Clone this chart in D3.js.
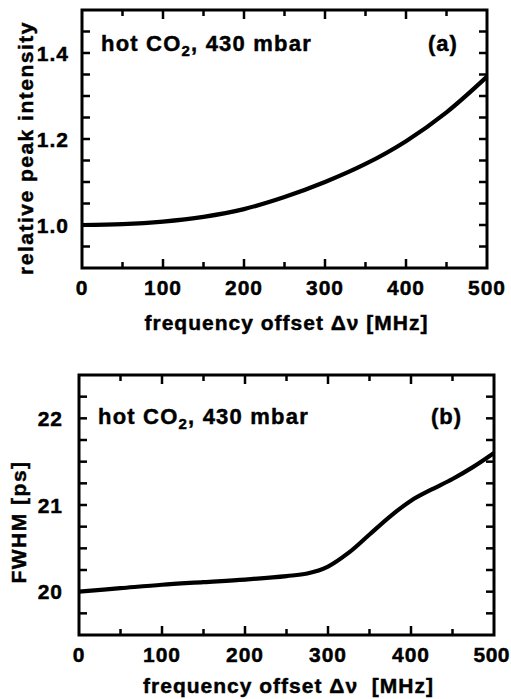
<!DOCTYPE html>
<html><head><meta charset="utf-8">
<script src="https://cdn.jsdelivr.net/npm/d3@7"></script>
<style>body{margin:0;background:#fff}svg{display:block}text{font-family:"Liberation Sans",Arial,sans-serif;font-weight:bold;fill:#000;stroke:#000;stroke-width:0.45px}</style>
</head><body>
<script>
// ---- data ----
const freqA = [0, 50, 100, 150, 200, 250, 300, 350, 400, 450, 500];
const intensity = [1.0, 1.002, 1.008, 1.019, 1.037, 1.065, 1.1, 1.142, 1.195, 1.262, 1.345];
const freqB = [0, 50, 100, 150, 200, 250, 275, 300, 325, 350, 375, 400, 425, 450, 475, 500];
const fwhm = [20.0, 20.04, 20.08, 20.11, 20.14, 20.18, 20.21, 20.29, 20.45, 20.66, 20.87, 21.05, 21.18, 21.30, 21.44, 21.6];
const xTicks = [0, 100, 200, 300, 400, 500];
const yTicksA = [1.0, 1.2, 1.4];
const yTicksB = [20, 21, 22];

const W = 511, H = 699;
const svg = d3.select("body").append("svg").attr("width", W).attr("height", H);

function panel(o) {
  const x = d3.scaleLinear().domain([0, 500]).range([o.left, o.right]);
  const y = d3.scaleLinear().domain(o.ydom).range([o.bottom, o.top]);
  const g = svg.append("g");
  const minorX = d3.range(0, 501, 50);
  const minorY = d3.range(o.ydom[0], o.ydom[1] + 1e-9, o.ystep).map(v => +v.toFixed(4));
  // ticks
  minorX.forEach(v => {
    const major = v % 100 === 0;
    const len = major ? 9 : 6;
    if (v === 0 || v === 500) return;
    g.append("line").attr("x1", x(v)).attr("x2", x(v)).attr("y1", o.bottom).attr("y2", o.bottom - len).attr("stroke", "#000").attr("stroke-width", 2.5);
    g.append("line").attr("x1", x(v)).attr("x2", x(v)).attr("y1", o.top).attr("y2", o.top + len).attr("stroke", "#000").attr("stroke-width", 2.5);
  });
  minorY.forEach(v => {
    if (Math.abs(v - o.ydom[0]) < 1e-6 || Math.abs(v - o.ydom[1]) < 1e-6) return;
    const len = 8;
    g.append("line").attr("x1", o.left).attr("x2", o.left + len).attr("y1", y(v)).attr("y2", y(v)).attr("stroke", "#000").attr("stroke-width", 2.5);
    g.append("line").attr("x1", o.right).attr("x2", o.right - len).attr("y1", y(v)).attr("y2", y(v)).attr("stroke", "#000").attr("stroke-width", 2.5);
  });
  // frame
  g.append("rect").attr("x", o.left).attr("y", o.top).attr("width", o.right - o.left).attr("height", o.bottom - o.top)
    .attr("fill", "none").attr("stroke", "#000").attr("stroke-width", 3);
  // tick labels
  xTicks.forEach(v => {
    const last = v === 500 && o.right + 20 > W;
    g.append("text").attr("x", last ? W - 1 : x(v)).attr("y", o.bottom + 27).attr("text-anchor", last ? "end" : "middle")
      .attr("font-size", 21).attr("letter-spacing", last ? 0.5 : 1).text(v);
  });
  o.yticks.forEach(v => {
    g.append("text").attr("x", o.left - o.ylabGap).attr("y", y(v) + 7.5).attr("text-anchor", "end")
      .attr("font-size", 21).attr("letter-spacing", 1).text(o.fmt(v));
  });
  // line
  const line = d3.line().x(d => x(d[0])).y(d => y(d[1])).curve(d3.curveCatmullRom.alpha(0.5));
  g.append("path").datum(o.xs.map((v, i) => [v, o.ys[i]])).attr("d", line)
    .attr("fill", "none").attr("stroke", "#000").attr("stroke-width", 4.2).attr("stroke-linejoin", "round");
  // annotation
  const t = g.append("text").attr("x", o.left + 19).attr("y", o.annY).attr("font-size", 22).attr("letter-spacing", 1.2);
  t.append("tspan").text("hot CO");
  t.append("tspan").attr("font-size", 15).attr("dy", 5).text("2");
  t.append("tspan").attr("dy", -5).text(", 430 mbar");
  g.append("text").attr("x", o.panelLabX).attr("y", o.annY).attr("font-size", 22).attr("letter-spacing", 1).text(o.panelLab);
  // x title
  g.append("text").attr("x", (o.left + o.right) / 2 + 2).attr("y", o.xtitleY).attr("text-anchor", "middle")
    .attr("font-size", 21).attr("letter-spacing", 1).attr("xml:space", "preserve").text(o.xtitle);
  // y title
  g.append("text").attr("transform", `translate(${o.ytitleX},${o.ytitleCY}) rotate(-90)`).attr("text-anchor", "middle")
    .attr("font-size", 21).attr("letter-spacing", 1.5).text(o.ytitle);
}

panel({left: 82, right: 487, top: 10, bottom: 268, ydom: [0.9, 1.5], ystep: 0.05,
  yticks: yTicksA, fmt: d3.format(".1f"), ylabGap: 13, xs: freqA, ys: intensity,
  annY: 51, panelLab: "(a)", panelLabX: 428, xtitleY: 330, xtitle: "frequency offset \u0394\u03bd [MHz]",
  ytitle: "relative peak intensity", ytitleX: 33, ytitleCY: 148});
panel({left: 79, right: 494, top: 375, bottom: 635, ydom: [19.5, 22.5], ystep: 0.25,
  yticks: yTicksB, fmt: d3.format("d"), ylabGap: 16, xs: freqB, ys: fwhm,
  annY: 424, panelLab: "(b)", panelLabX: 431, xtitleY: 693, xtitle: "frequency offset \u0394\u03bd  [MHz]",
  ytitle: "FWHM [ps]", ytitleX: 26, ytitleCY: 522});
</script>
</body></html>
